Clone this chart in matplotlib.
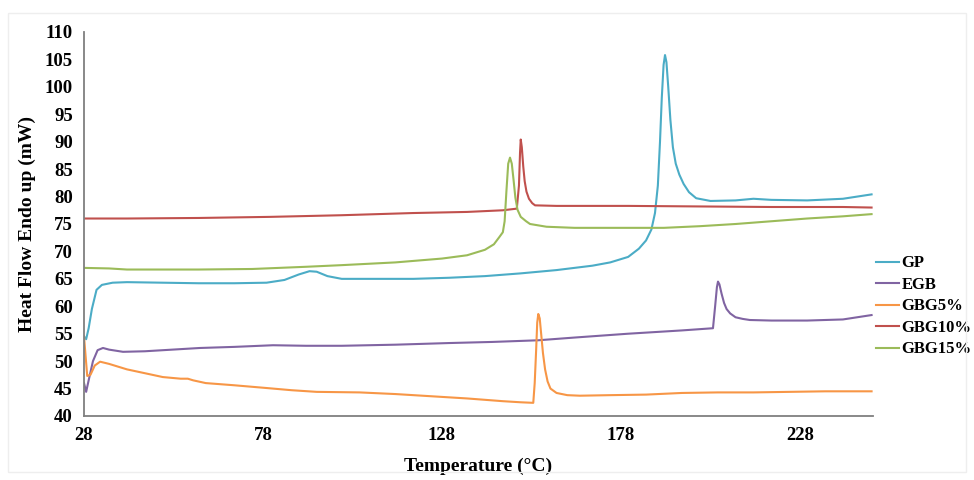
import matplotlib.pyplot as plt
from matplotlib.patches import Rectangle

# temperature (x) and heat flow (y)
gp_x = [28, 28.6, 29.3, 30.2, 31.5, 33, 36, 40, 50, 60, 70, 79, 84, 88, 91, 93, 96, 100, 110, 120, 130,
        140, 150, 160, 170, 175, 180, 183, 185, 186.5, 187.5, 188.3, 188.9, 189.4, 189.9, 190.3, 190.7,
        191.2, 191.8, 192.5, 193.3, 194.3, 195.5, 197, 199, 203, 210, 215, 220, 230, 240, 248]
gp_y = [54.5, 54.0, 56.0, 59.5, 63.0, 63.9, 64.3, 64.4, 64.3, 64.2, 64.2, 64.3, 64.8, 65.8, 66.4, 66.3,
        65.5, 65.0, 65.0, 65.0, 65.2, 65.5, 66.0, 66.6, 67.4, 68.0, 69.0, 70.5, 72.0, 74.0, 77.0, 82.0,
        90.0, 98.0, 104.0, 105.8, 104.5, 100.0, 94.0, 89.0, 86.0, 84.0, 82.3, 80.8, 79.7, 79.2, 79.3,
        79.6, 79.4, 79.3, 79.6, 80.4]

egb_x = [28, 28.6, 29.3, 30.5, 31.8, 33.3, 35, 38.9, 45, 60.4, 70, 80.8, 90, 100, 115, 130, 142, 154.8,
         165, 180, 195, 203.7, 204.3, 204.8, 205.1, 205.5, 206.1, 206.8, 207.5, 208.5, 210, 212, 214, 220,
         230, 240, 248]
egb_y = [46.0, 44.4, 46.5, 50.0, 52.0, 52.4, 52.1, 51.7, 51.8, 52.4, 52.6, 52.9, 52.8, 52.8, 53.0, 53.3,
         53.5, 53.8, 54.3, 55.0, 55.6, 56.0, 60.0, 63.5, 64.5, 64.0, 62.3, 60.6, 59.5, 58.7, 58.0, 57.7,
         57.5, 57.4, 57.4, 57.6, 58.4]

gbg5_x = [28, 28.5, 28.9, 29.8, 31, 32.5, 35, 40, 45, 50, 55, 57, 58.5, 62, 70, 79, 86, 93, 105, 115, 125,
          135, 145, 150, 153.5, 153.9, 154.3, 154.6, 154.9, 155.3, 155.7, 156.2, 156.8, 157.5, 158.3, 160,
          163, 166.5, 175, 185, 195, 205, 215, 225, 235, 248]
gbg5_y = [54.5, 50.5, 47.3, 47.5, 49.2, 49.9, 49.5, 48.5, 47.8, 47.1, 46.8, 46.8, 46.5, 46.0, 45.6, 45.1,
          44.7, 44.4, 44.3, 44.0, 43.6, 43.2, 42.7, 42.5, 42.4, 46.0, 52.0, 57.0, 58.6, 57.8, 55.0, 51.5,
          48.5, 46.3, 45.0, 44.2, 43.8, 43.7, 43.8, 43.9, 44.2, 44.3, 44.3, 44.4, 44.5, 44.5]

gbg10_x = [28, 40, 60, 80, 100, 120, 135, 145, 148.9, 149.5, 149.8, 150.0, 150.3, 150.7, 151.1, 151.6,
           152.3, 153.2, 154, 160, 180, 200, 220, 240, 248]
gbg10_y = [76.0, 76.0, 76.1, 76.3, 76.6, 77.0, 77.2, 77.5, 77.8, 82.0, 88.0, 90.4, 89.0, 85.5, 82.8, 80.9,
           79.6, 78.8, 78.4, 78.3, 78.3, 78.2, 78.1, 78.1, 78.0]

gbg15_x = [28, 35, 40, 60, 75, 90, 100, 115, 128, 135, 140, 142.5, 144, 145, 145.5, 146.0, 146.5, 147.0,
           147.5, 148.0, 148.5, 149.1, 150, 151.5, 152.6, 157.2, 165, 180, 190, 200, 210, 220, 230, 240, 248]
gbg15_y = [67.0, 66.9, 66.7, 66.7, 66.8, 67.2, 67.5, 68.0, 68.7, 69.3, 70.3, 71.3, 72.6, 73.5, 75.5, 81.0,
           86.0, 87.1, 86.0, 83.0, 79.8, 77.6, 76.3, 75.5, 75.0, 74.5, 74.3, 74.3, 74.3, 74.6, 75.0, 75.5,
           76.0, 76.4, 76.8]

series = [("GP", gp_x, gp_y, "#4BACC6"),
          ("EGB", egb_x, egb_y, "#8064A2"),
          ("GBG5%", gbg5_x, gbg5_y, "#F79646"),
          ("GBG10%", gbg10_x, gbg10_y, "#C0504D"),
          ("GBG15%", gbg15_x, gbg15_y, "#9BBB59")]

xticks = [28, 78, 128, 178, 228]
yticks = list(range(40, 111, 5))

plt.rcParams['font.family'] = ['Liberation Serif', 'DejaVu Serif']
plt.rcParams['font.weight'] = 'bold'

fig = plt.figure(figsize=(9.74, 4.8), dpi=100)
fig.patches.append(Rectangle((8 / 974, 8 / 480), 958 / 974, 459 / 480, transform=fig.transFigure,
                             fill=False, edgecolor='#eeeeee', linewidth=1))
ax = fig.add_axes([84 / 974, 64 / 480, 789 / 974, 384 / 480])

for name, xs, ys, col in series:
    ax.plot(xs, ys, color=col, linewidth=1.5, label=name)

ax.set_xlim(28, 248.4)
ax.set_ylim(40, 110)
ax.set_xticks(xticks)
ax.set_yticks(yticks)
ax.tick_params(length=0, labelsize=13.5, pad=8)
for lab in ax.get_xticklabels() + ax.get_yticklabels():
    lab.set_fontweight('bold')
for s in ['top', 'right']:
    ax.spines[s].set_visible(False)
for s in ['left', 'bottom']:
    ax.spines[s].set_color('#7f7f7f')
    ax.spines[s].set_linewidth(1.3)

ax.set_xlabel('Temperature (°C)', fontsize=14, fontweight='bold', labelpad=10)
ax.set_ylabel('Heat Flow Endo up (mW)', fontsize=14, fontweight='bold', labelpad=6)

ax.legend(loc='upper left', bbox_to_anchor=(1.004, 0.418), frameon=False, fontsize=12,
          handlelength=1.4, handletextpad=0.12, labelspacing=0.33, borderaxespad=0, borderpad=0)

fig.savefig('out.png', dpi=100)
